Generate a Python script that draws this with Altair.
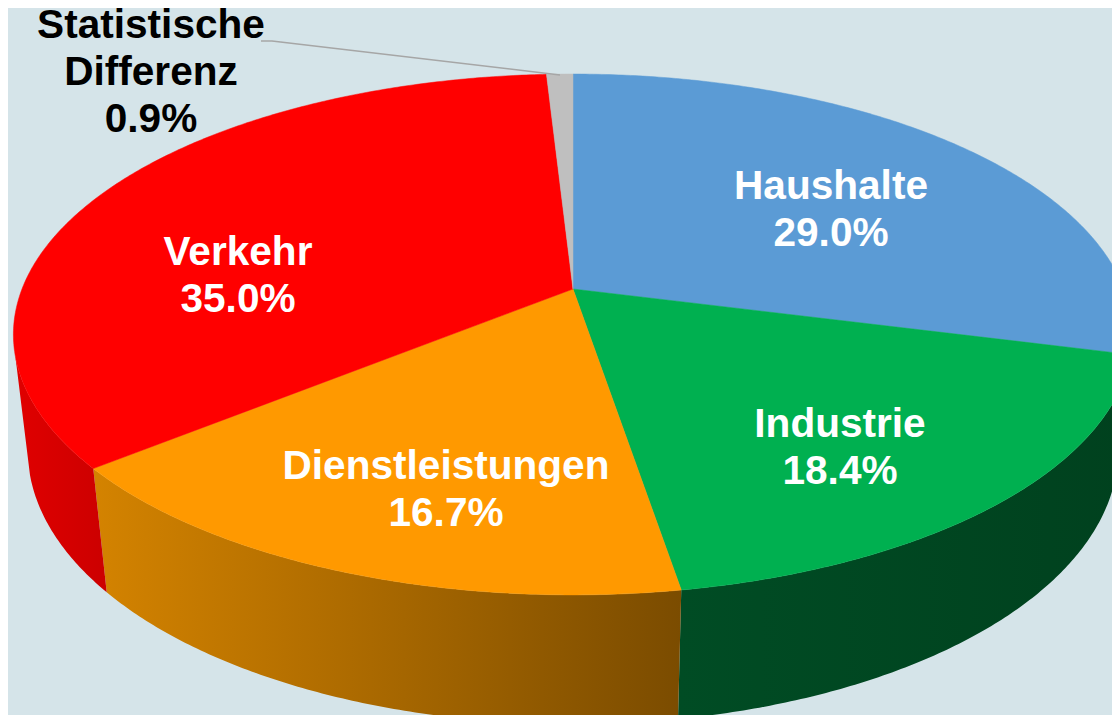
import math
import altair as alt

categories = ["Haushalte", "Industrie", "Dienstleistungen", "Verkehr", "Statistische\nDifferenz"]
shares = [29.0, 18.4, 16.7, 35.0, 0.9]
top_colors = ["#5b9bd5", "#00b050", "#ff9900", "#ff0000", "#bfbfbf"]
wall_left = ["#2f5d88", "#004c24", "#d48300", "#e00000", "#808080"]
wall_right = ["#2f5d88", "#00411e", "#7b4c00", "#cc0000", "#808080"]
text_colors = ["#ffffff", "#ffffff", "#ffffff", "#ffffff", "#000000"]
label_x = [831, 840, 446, 238, 151]
label_y = [187, 425, 467, 253, 26]

# page margin of the output
M = 8
# perspective camera of the pie
CX, CY, B, A, K, DROP, M2 = 573.0, 289.0, 551.0, 252.5, 0.1746, 117.8, 0.0256


def project(theta, level=0, r=1.0):
    X, Y = r * math.sin(theta), r * math.cos(theta)
    w = 1 + K * Y + (M2 if level else 0)
    return [CX + B * X / w - M, CY + (-A * Y + (DROP if level else 0)) / w - M]


def feature(ring, color):
    return {"type": "Feature", "properties": {"c": color},
            "geometry": {"type": "Polygon", "coordinates": [ring + [ring[0]]]}}


proj = dict(type="identity", scale=1, translate=[0, 0])

top_features, wall_layers = [], []
start = 0.0
for share, top, left, right in zip(shares, top_colors, wall_left, wall_right):
    a0 = start / 100 * 2 * math.pi
    a1 = (start + share) / 100 * 2 * math.pi
    n = max(4, int(share * 3.6 * 2))
    angles = [a0 + (a1 - a0) * i / n for i in range(n + 1)]
    top_features.append(feature([project(a0, 0, 0)] + [project(t) for t in angles], top))
    front = [t for t in angles if math.cos(t) < -0.25]
    if len(front) > 1:
        ring = [project(t) for t in front] + [project(t, 1) for t in reversed(front)]
        wall_layers.append(
            alt.Chart(alt.Data(values=[feature(ring, left)])).mark_geoshape(
                fill=alt.Gradient(gradient="linear", x1=0, x2=1, y1=0, y2=0, stops=[
                    alt.GradientStop(color=left, offset=0),
                    alt.GradientStop(color=right, offset=1),
                ]),
                strokeWidth=0,
            ).project(**proj)
        )
    start += share

leader = [{"type": "Feature", "properties": {},
           "geometry": {"type": "LineString",
                        "coordinates": [[261 - M, 41 - M], [272 - M, 41 - M], [560 - M, 75 - M]]}}]

labels = [{"lon": x - M, "lat": y - M, "label": f"{c}\n{s:.1f}%", "col": col}
          for c, s, x, y, col in zip(categories, shares, label_x, label_y, text_colors)]

tops = alt.Chart(alt.Data(values=top_features)).mark_geoshape(strokeWidth=0.5).encode(
    fill=alt.Fill("properties.c:N", scale=None),
    stroke=alt.Stroke("properties.c:N", scale=None),
).project(**proj)

line = alt.Chart(alt.Data(values=leader)).mark_geoshape(
    filled=False, stroke="#a6a6a6", strokeWidth=1.5
).project(**proj)

text = alt.Chart(alt.Data(values=labels)).mark_text(
    font="Liberation Sans", fontWeight="bold", fontSize=40.6, lineBreak="\n", lineHeight=47,
    align="center", baseline="middle"
).encode(
    longitude="lon:Q", latitude="lat:Q", text="label:N",
    color=alt.Color("col:N", scale=None),
).project(**proj)

chart = alt.layer(*wall_layers, tops, line, text).properties(
    width=1104, height=707, padding=0, background="#d5e4e9",
    autosize=alt.AutoSizeParams(type="none"),
).configure_view(stroke=None)

chart.save("out.html", embed_options={"renderer": "svg", "actions": False})
